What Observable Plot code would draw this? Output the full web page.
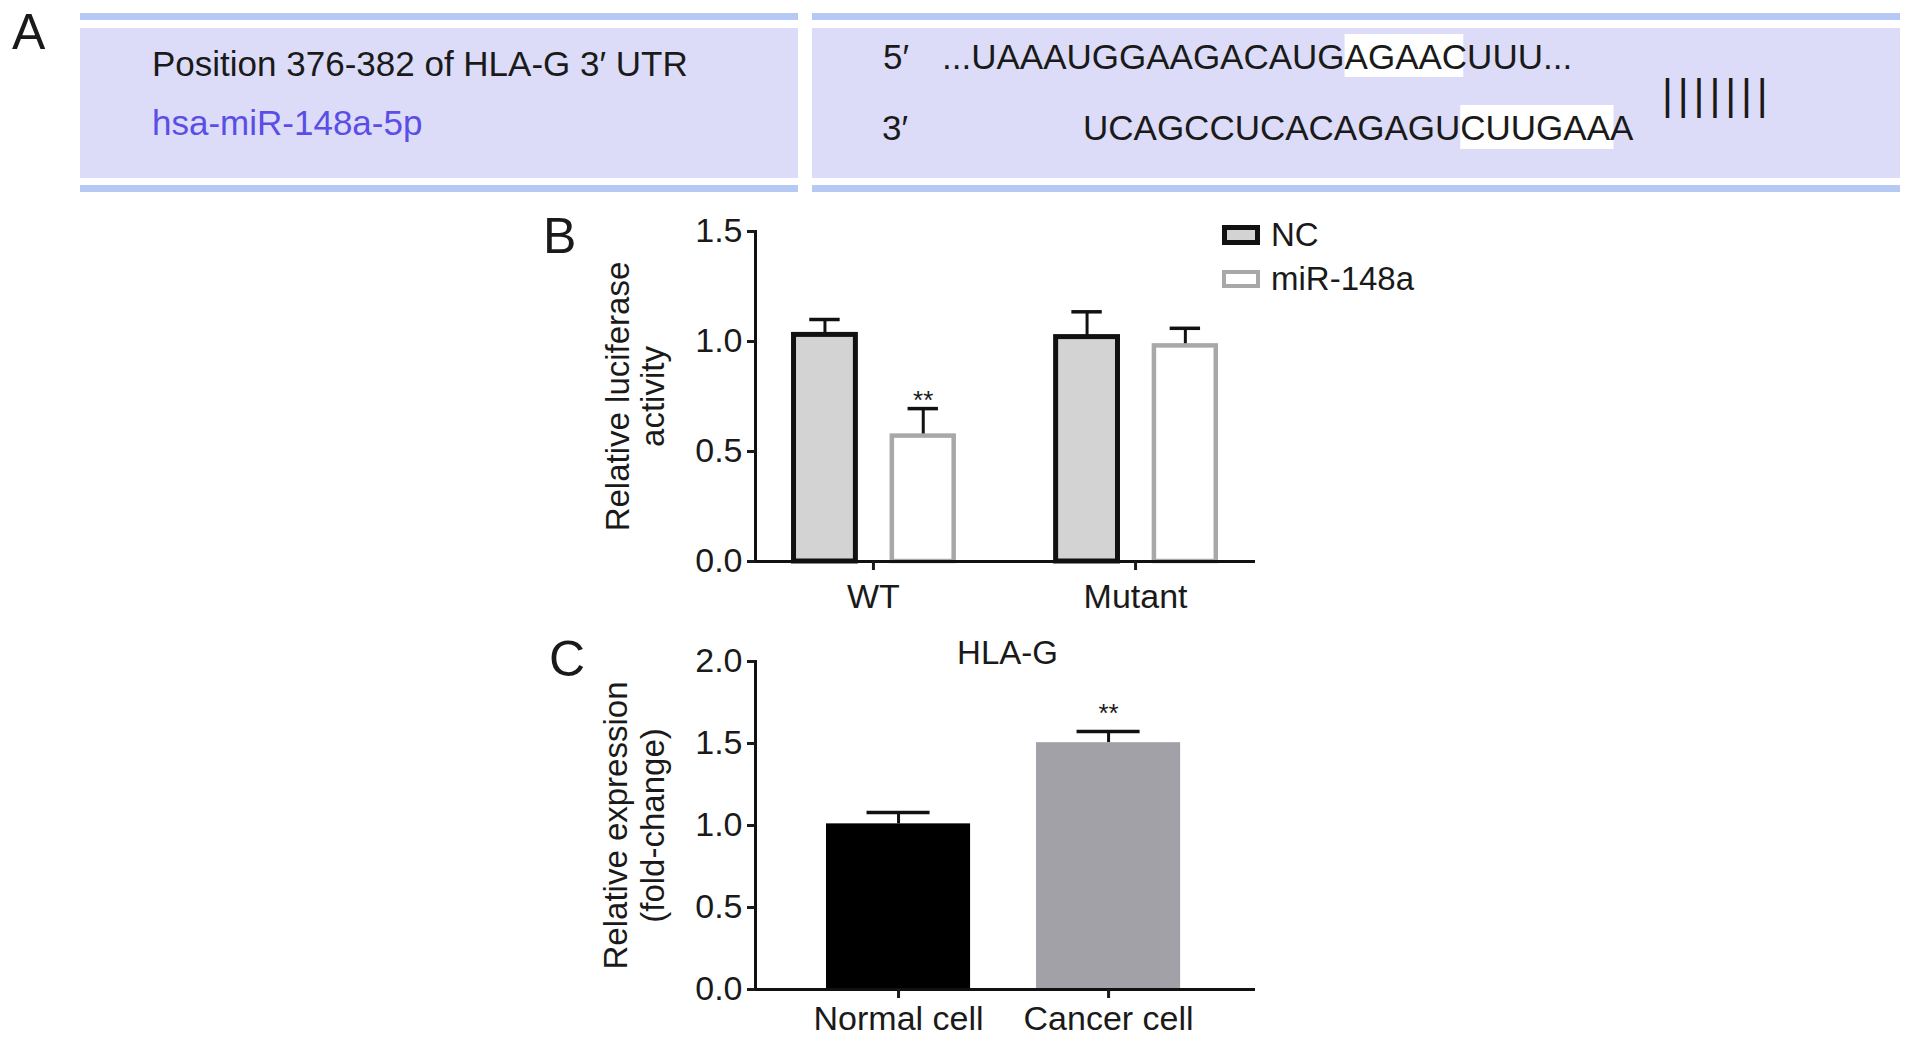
<!DOCTYPE html>
<html><head><meta charset="utf-8">
<script src="https://cdn.jsdelivr.net/npm/d3@7"></script>
<script src="https://cdn.jsdelivr.net/npm/@observablehq/plot@0.6"></script>
<style>
html,body{margin:0;padding:0;background:#fff;}
#page{position:relative;width:1913px;height:1044px;overflow:hidden;font-family:"Liberation Sans",Arial,Helvetica,sans-serif;}
#page svg{position:absolute;}
</style></head>
<body><div id="page"></div>
<script>
// ---------------- Data ----------------
// Panel A (sequence alignment)
const panelLetters = ["A", "B", "C"];
const utrLabel = "Position 376-382 of HLA-G 3′ UTR";
const mirLabel = "hsa-miR-148a-5p";
const utrPrime = "5′";
const mirPrime = "3′";
const utrSeq = "...UAAAUGGAAGACAUGAGAACUUU...";
const mirSeq = "UCAGCCUCACAGAGUCUUGAAA";
const seedPairs = "|||||||";

// Panel B (luciferase assay)
const lucGroups = ["WT", "Mutant"];
const lucSeries = ["NC", "miR-148a"];
const lucNC = [1.03, 1.02];
const lucNCsd = [0.07, 0.115];
const lucMiR = [0.57, 0.98];
const lucMiRsd = [0.125, 0.08];
const lucNCsig = ["", ""];
const lucMiRsig = ["**", ""];
const lucYTicks = [0, 0.5, 1.0, 1.5];
const lucYLabel = "Relative luciferase\nactivity";

// Panel C (HLA-G expression)
const exprTitle = "HLA-G";
const exprCells = ["Normal cell", "Cancer cell"];
const exprMean = [1.01, 1.505];
const exprSD = [0.07, 0.068];
const exprSig = ["", "**"];
const exprYTicks = [0, 0.5, 1.0, 1.5, 2.0];
const exprYLabel = "Relative expression\n(fold-change)";

// ---------------- Styles ----------------
const FONT = '"Liberation Sans", Arial, Helvetica, sans-serif';
const INK = "#1a1a1a";
const BAND = "#b6c9f4";
const BOX = "#dddcf8";
const PURPLE = "#5b4ee6";
const NC_FILL = "#d3d3d3";
const MIR_STROKE = "#a8a8a8";
const CANCER_FILL = "#a1a1a7";

const page = d3.select("#page");

// ---------------- Annotation layer (panel A, letters, legend) ----------------
const ann = page.append("svg")
  .attr("width", 1913).attr("height", 1044)
  .style("left", "0px").style("top", "0px")
  .style("font-family", FONT);

for (const [x0, x1] of [[80, 798], [812, 1900]]) {
  ann.append("rect").attr("x", x0).attr("y", 13).attr("width", x1 - x0).attr("height", 7).attr("fill", BAND);
  ann.append("rect").attr("x", x0).attr("y", 28).attr("width", x1 - x0).attr("height", 150).attr("fill", BOX);
  ann.append("rect").attr("x", x0).attr("y", 185).attr("width", x1 - x0).attr("height", 7).attr("fill", BAND);
}

function addText(x, y, str, size, fill, extra = {}) {
  const t = ann.append("text").attr("x", x).attr("y", y)
    .attr("font-size", size).attr("fill", fill).text(str);
  for (const k in extra) t.attr(k, extra[k]);
  return t;
}
function highlight(t, i0, i1, endFrac, top, bottom) {
  const n = t.node();
  const xs = n.getStartPositionOfChar(i0).x;
  const ext = n.getExtentOfChar(i1);
  const xe = ext.x + ext.width * endFrac;
  const y = +t.attr("y");
  const r = document.createElementNS("http://www.w3.org/2000/svg", "rect");
  r.setAttribute("x", xs); r.setAttribute("width", xe - xs);
  r.setAttribute("y", y - top); r.setAttribute("height", top + bottom);
  r.setAttribute("fill", "#ffffff");
  n.parentNode.insertBefore(r, n);
}

addText(12, 49, panelLetters[0], 50, INK);
addText(152, 76, utrLabel, 35, INK);
addText(152, 135, mirLabel, 35, PURPLE);
addText(883, 69, utrPrime, 35, INK);
addText(882, 140, mirPrime, 35, INK);
const s1 = addText(942, 69, utrSeq, 35, INK);
const s2 = addText(1083, 140, mirSeq, 35, INK);
highlight(s1, 18, 22, 0.85, 35, 8);
highlight(s2, 15, 21, 0.15, 35, 9);
addText(1662, 109, seedPairs, 42, INK, {"letter-spacing": 4.9});

addText(543, 253, panelLetters[1], 50, INK);
addText(549, 676, panelLetters[2], 50, INK);

// Legend for panel B
ann.append("rect").attr("x", 1224.5).attr("y", 227.5).attr("width", 33).attr("height", 15)
  .attr("fill", NC_FILL).attr("stroke", "#111").attr("stroke-width", 5);
ann.append("rect").attr("x", 1224).attr("y", 272).attr("width", 34).attr("height", 14)
  .attr("fill", "#fff").attr("stroke", MIR_STROKE).attr("stroke-width", 4);
addText(1271, 246, lucSeries[0], 33, INK);
addText(1271, 290, lucSeries[1], 33, INK);

// ---------------- Panel B ----------------
const offB = {"NC": -0.185, "miR-148a": 0.19};
const halfB = 0.118, capB = 0.058;
const rowsB = [];
lucGroups.forEach((g, i) => {
  rowsB.push({g: i, s: lucSeries[0], mean: lucNC[i], sd: lucNCsd[i], sig: lucNCsig[i]});
  rowsB.push({g: i, s: lucSeries[1], mean: lucMiR[i], sd: lucMiRsd[i], sig: lucMiRsig[i]});
});
rowsB.forEach(d => { d.pos = d.g + offB[d.s]; d.top = d.mean + d.sd; });

const chartB = Plot.plot({
  width: 900, height: 440,
  marginLeft: 215, marginRight: 187, marginTop: 41, marginBottom: 69,
  style: {fontFamily: FONT, fontSize: "34px", color: INK, background: "transparent", overflow: "visible"},
  x: {domain: [-0.45, 1.45]},
  y: {domain: [0, 1.5]},
  marks: [
    Plot.ruleX(rowsB, {x: "pos", y1: "mean", y2: "top", stroke: "#111", strokeWidth: 3}),
    Plot.ruleY(rowsB, {y: "top", x1: d => d.pos - capB, x2: d => d.pos + capB, stroke: "#111", strokeWidth: 3.5}),
    Plot.rectY(rowsB.filter(d => d.s === lucSeries[0]), {x1: d => d.pos - halfB, x2: d => d.pos + halfB, y1: 0, y2: "mean", fill: NC_FILL, stroke: "#111", strokeWidth: 5}),
    Plot.rectY(rowsB.filter(d => d.s === lucSeries[1]), {x1: d => d.pos - halfB, x2: d => d.pos + halfB, y1: 0, y2: "mean", fill: "#fff", stroke: MIR_STROKE, strokeWidth: 4.5}),
    Plot.text(rowsB.filter(d => d.sig), {x: "pos", y: "top", text: "sig", lineAnchor: "bottom", dy: 0, fontSize: 26, fill: INK}),
    Plot.frame({anchor: "left", stroke: "#111", strokeWidth: 3}),
    Plot.frame({anchor: "bottom", stroke: "#111", strokeWidth: 3}),
    Plot.axisY({ticks: lucYTicks, tickFormat: d3.format(".1f"), tickSize: 8, tickPadding: 5, strokeWidth: 3, label: null}),
    Plot.axisX({ticks: [0, 1], tickFormat: i => lucGroups[i], tickSize: 9, tickPadding: 13, strokeWidth: 3, label: null}),
    Plot.text([lucYLabel], {text: d => d, frameAnchor: "left", rotate: -90, dx: -120, lineHeight: 1.06, fontSize: 33, textAnchor: "middle", lineAnchor: "middle", fill: INK})
  ]
});
d3.select(chartB).style("left", "540px").style("top", "190px");
page.node().appendChild(chartB);

// ---------------- Panel C ----------------
const halfC = 0.343, capC = 0.15;
const rowsC = exprCells.map((c, i) => ({i, c, mean: exprMean[i], top: exprMean[i] + exprSD[i], sig: exprSig[i]}));
const cellFill = ["#000000", CANCER_FILL];

const chartC = Plot.plot({
  width: 900, height: 444,
  marginLeft: 215, marginRight: 187, marginTop: 61, marginBottom: 55,
  style: {fontFamily: FONT, fontSize: "34px", color: INK, background: "transparent", overflow: "visible"},
  x: {domain: [-0.681, 1.69]},
  y: {domain: [0, 2]},
  marks: [
    Plot.ruleX(rowsC, {x: "i", y1: "mean", y2: "top", stroke: "#111", strokeWidth: 3}),
    Plot.ruleY(rowsC, {y: "top", x1: d => d.i - capC, x2: d => d.i + capC, stroke: "#111", strokeWidth: 3.5}),
    Plot.rectY(rowsC, {x1: d => d.i - halfC, x2: d => d.i + halfC, y1: 0, y2: "mean", fill: d => cellFill[d.i]}),
    Plot.text(rowsC.filter(d => d.sig), {x: "i", y: "top", text: "sig", lineAnchor: "bottom", dy: -10, fontSize: 26, fill: INK}),
    Plot.frame({anchor: "left", stroke: "#111", strokeWidth: 3}),
    Plot.frame({anchor: "bottom", stroke: "#111", strokeWidth: 3}),
    Plot.axisY({ticks: exprYTicks, tickFormat: d3.format(".1f"), tickSize: 8, tickPadding: 5, strokeWidth: 3, label: null}),
    Plot.axisX({ticks: [0, 1], tickFormat: i => exprCells[i], tickSize: 9, tickPadding: 7, strokeWidth: 3, label: null}),
    Plot.text([exprTitle], {text: d => d, frameAnchor: "top", dx: 3, dy: 2, lineAnchor: "bottom", fontSize: 33, fill: INK}),
    Plot.text([exprYLabel], {text: d => d, frameAnchor: "left", rotate: -90, dx: -122, lineHeight: 1.14, fontSize: 33, textAnchor: "middle", lineAnchor: "middle", fill: INK})
  ]
});
d3.select(chartC).style("left", "540px").style("top", "600px");
page.node().appendChild(chartC);
</script>
</body></html>
